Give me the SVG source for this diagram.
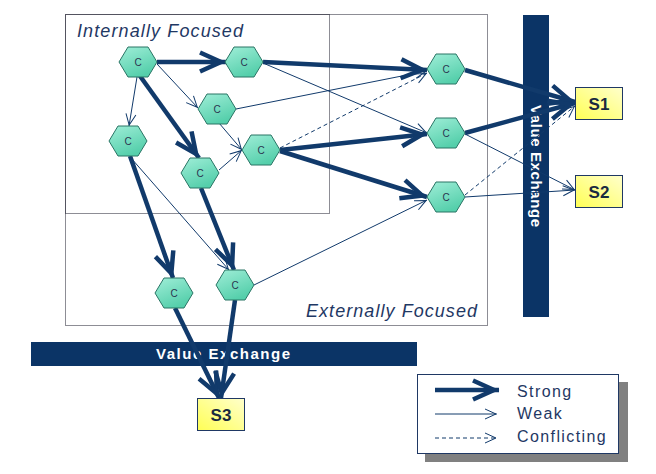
<svg xmlns="http://www.w3.org/2000/svg" xmlns:xlink="http://www.w3.org/1999/xlink" width="656" height="474" viewBox="0 0 656 474">
<style>
.zone{fill:none;stroke:#1a1a2a;stroke-width:1;stroke-dasharray:1,1}
.zl{font-family:"Liberation Sans",Arial,sans-serif;font-style:italic;font-size:18px;fill:#1F3864}
.bar{fill:#0B3466}
.bt{font-family:"Liberation Sans",Arial,sans-serif;font-weight:bold;font-size:15px;fill:#ffffff}
.strong{fill:none;stroke:#113A6B;stroke-width:4.5;marker-end:url(#mS)}
.weak{fill:none;stroke:#113A6B;stroke-width:1;marker-end:url(#mW)}
.conf{fill:none;stroke:#113A6B;stroke-width:1;stroke-dasharray:4,3;marker-end:url(#mW)}
.hex{fill:url(#hg);stroke:#2A7565;stroke-width:1}
.ht{font-family:"Liberation Sans",Arial,sans-serif;font-size:10px;fill:#2A3550;text-anchor:middle}
.sb{fill:url(#yg);stroke:#1F3864;stroke-width:1}
.st{font-family:"Liberation Sans",Arial,sans-serif;font-weight:bold;font-size:17px;fill:#1a2a40;text-anchor:middle}
.lt{font-family:"Liberation Sans",Arial,sans-serif;font-size:16px;letter-spacing:1.4px;fill:#1F3864}
</style>
<defs>
<linearGradient id="hg" x1="0" y1="0" x2="0.5" y2="1">
<stop offset="0" stop-color="#A0EED8"/>
<stop offset="1" stop-color="#55CFAB"/>
</linearGradient>
<linearGradient id="yg" x1="0" y1="1" x2="1" y2="0">
<stop offset="0" stop-color="#FFFF55"/>
<stop offset="1" stop-color="#FFFFCC"/>
</linearGradient>
<polygon id="hx" points="-19,0 -10,-15 10,-15 19,0 10,15 -10,15"/>
<marker id="mS" markerUnits="userSpaceOnUse" viewBox="-30 -15 34 30" markerWidth="34" markerHeight="30" refX="0" refY="0" orient="auto">
<path d="M-26,-9.5 L-5,0 L-26,9.5" fill="none" stroke="#113A6B" stroke-width="4.5"/>
</marker>
<marker id="mW" markerUnits="userSpaceOnUse" viewBox="-15 -8 18 16" markerWidth="18" markerHeight="16" refX="0" refY="0" orient="auto">
<path d="M-12,-5 L-1,0 L-12,5" fill="none" stroke="#113A6B" stroke-width="1"/>
</marker>
</defs>
<rect x="0" y="0" width="656" height="474" fill="#ffffff"/>

<g id="zones">
<rect class="zone" x="65.5" y="14.5" width="422" height="311"/>
<rect class="zone" x="65.5" y="14.5" width="264" height="199"/>
<text class="zl" x="77" y="37" textLength="166">Internally Focused</text>
<text class="zl" x="306" y="317" textLength="171">Externally Focused</text>
</g>

<g id="bar-vertical">
<rect class="bar" x="523" y="15" width="26" height="302"/>
<text class="bt" transform="translate(536,166) rotate(90)" x="0" y="5" text-anchor="middle" textLength="122">Value Exchange</text>
</g>
<g id="bar-horizontal">
<rect class="bar" x="31" y="342" width="386" height="24"/>
<text class="bt" x="223" y="359" text-anchor="middle" textLength="134">Value Exchange</text>
</g>

<g id="connectors">
<path class="weak" d="M137,77 L129,126"/>
<path class="weak" d="M157,64 L198,108"/>
<path class="weak" d="M236,109 L427,71"/>
<path class="weak" d="M263,63 L427,133"/>
<path class="weak" d="M219,123 L242,150"/>
<path class="weak" d="M219,170 L242,150"/>
<path class="weak" d="M131,158 L229,270"/>
<path class="weak" d="M254,285 L427,200"/>
<path class="weak" d="M465,134 L575,190"/>
<path class="weak" d="M465,197 L575,190"/>
<path class="conf" d="M280,148 L427,73"/>
<path class="conf" d="M465,195 L575,106"/>
<path class="strong" d="M157,62 L226,62"/>
<path class="strong" d="M140,76 L199,158"/>
<path class="strong" d="M263,62 L427,70"/>
<path class="strong" d="M130,156 L173,278"/>
<path class="strong" d="M201,188 L234,270"/>
<path class="strong" d="M280,150 L427,134"/>
<path class="strong" d="M280,151 L427,197"/>
<path class="strong" d="M465,70 L575,102"/>
<path class="strong" d="M465,133 L575,103"/>
<path class="strong" d="M175,308 L219,398"/>
<path class="strong" d="M235,300 L221,398"/>
</g>

<g id="n1"><use xlink:href="#hx" class="hex" x="138" y="62"/><text class="ht" x="138" y="66">C</text></g>
<g id="n2"><use xlink:href="#hx" class="hex" x="244" y="62"/><text class="ht" x="244" y="66">C</text></g>
<g id="n3"><use xlink:href="#hx" class="hex" x="217" y="109"/><text class="ht" x="217" y="113">C</text></g>
<g id="n4"><use xlink:href="#hx" class="hex" x="128" y="141"/><text class="ht" x="128" y="145">C</text></g>
<g id="n5"><use xlink:href="#hx" class="hex" x="200" y="173"/><text class="ht" x="200" y="177">C</text></g>
<g id="n6"><use xlink:href="#hx" class="hex" x="261" y="150"/><text class="ht" x="261" y="154">C</text></g>
<g id="n7"><use xlink:href="#hx" class="hex" x="446" y="69"/><text class="ht" x="446" y="73">C</text></g>
<g id="n8"><use xlink:href="#hx" class="hex" x="446" y="133"/><text class="ht" x="446" y="137">C</text></g>
<g id="n9"><use xlink:href="#hx" class="hex" x="446" y="197"/><text class="ht" x="446" y="201">C</text></g>
<g id="n10"><use xlink:href="#hx" class="hex" x="174" y="293"/><text class="ht" x="174" y="297">C</text></g>
<g id="n11"><use xlink:href="#hx" class="hex" x="235" y="285"/><text class="ht" x="235" y="289">C</text></g>

<g id="s1"><rect class="sb" x="575.5" y="87.5" width="47" height="32"/><text class="st" x="599" y="110">S1</text></g>
<g id="s2"><rect class="sb" x="575.5" y="175.5" width="47" height="32"/><text class="st" x="599" y="198">S2</text></g>
<g id="s3"><rect class="sb" x="197.5" y="398.5" width="47" height="32"/><text class="st" x="221" y="421">S3</text></g>

<g id="legend">
<rect x="425" y="382" width="203" height="80" fill="#808080"/>
<rect x="417.5" y="374.5" width="201" height="79" fill="#ffffff" stroke="#1F3864" stroke-width="1"/>
<path class="strong" d="M435,390 L499,390"/>
<path class="weak" d="M435,414 L497,414"/>
<path class="conf" d="M435,438 L497,438"/>
<text class="lt" x="517" y="397">Strong</text>
<text class="lt" x="517" y="419">Weak</text>
<text class="lt" x="517" y="442">Conflicting</text>
</g>
</svg>
